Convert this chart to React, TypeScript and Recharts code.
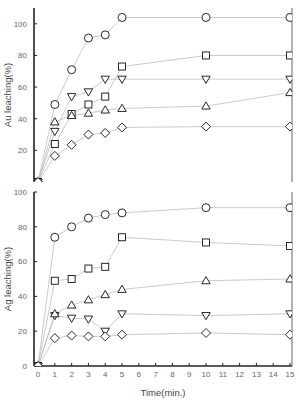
import React from 'react';
import { LineChart, Line, XAxis, YAxis } from 'recharts';

// time points (min.)
const time = [0, 1, 2, 3, 4, 5, 10, 15];
const xTicks = [0, 1, 2, 3, 4, 5, 6, 7, 8, 9, 10, 11, 12, 13, 14, 15];
const yTicks = [0, 20, 40, 60, 80, 100];

// Au leaching (%)
const auCircle = [0, 49, 71, 91, 93, 104, 104, 104];
const auSquare = [0, 24, 43, 49, 54, 73, 80, 80];
const auDown = [0, 32, 54, 57, 65, 65, 65, 65];
const auUp = [0, 38, 42, 43.5, 45.5, 46.5, 48, 56.5];
const auDiamond = [0, 16.5, 23.5, 30, 31, 34.5, 35, 35];

// Ag leaching (%)
const agCircle = [0, 74, 80, 85, 87, 88, 91, 91];
const agSquare = [0, 49, 50, 56, 57, 74, 71, 69];
const agUp = [0, 30, 35, 38, 41, 44, 49, 50];
const agDown = [0, 29, 27.5, 27, 20, 30, 29, 30];
const agDiamond = [0, 16, 17.5, 17, 17, 18, 19, 18];

const auData = time.map((t, i) => ({
  time: t, circle: auCircle[i], square: auSquare[i], down: auDown[i], up: auUp[i], diamond: auDiamond[i],
}));
const agData = time.map((t, i) => ({
  time: t, circle: agCircle[i], square: agSquare[i], down: agDown[i], up: agUp[i], diamond: agDiamond[i],
}));

const FONT = '"Liberation Sans", Arial, sans-serif';
const AXIS = '#222';
const FRAME = '#555';
const LINE = '#bdbdbd';
const X_DOMAIN = [-0.24, 15.12];
const tickStyle = { fill: '#666', fontSize: 8, fontFamily: FONT };

const makeDot = (shape: string) => (props: any) => {
  const { cx, cy, index } = props;
  const k = `${shape}-${index}`;
  if (cx == null || cy == null) return <g key={k} />;
  const common = { fill: '#fff', stroke: '#111', strokeWidth: 0.9 };
  switch (shape) {
    case 'circle':
      return <circle key={k} cx={cx} cy={cy} r={4} {...common} />;
    case 'square':
      return <rect key={k} x={cx - 3.5} y={cy - 3.5} width={7} height={7} {...common} />;
    case 'up':
      return <polygon key={k} points={`${cx},${cy - 4.2} ${cx + 4.2},${cy + 3} ${cx - 4.2},${cy + 3}`} {...common} />;
    case 'down':
      return <polygon key={k} points={`${cx},${cy + 4.2} ${cx + 4.2},${cy - 3} ${cx - 4.2},${cy - 3}`} {...common} />;
    default:
      return <polygon key={k} points={`${cx},${cy - 4.5} ${cx + 4.5},${cy} ${cx},${cy + 4.5} ${cx - 4.5},${cy}`} {...common} />;
  }
};

const series = ['circle', 'square', 'down', 'up', 'diamond'];

const Panel = ({ data, height, top, bottom, yMax, label, showX }: any) => (
  <LineChart width={299} height={height} data={data} margin={{ top, right: 3, left: 0, bottom }}>
    <XAxis
      dataKey="time" type="number" domain={X_DOMAIN} ticks={xTicks} allowDataOverflow
      axisLine={{ stroke: AXIS, strokeWidth: 1.6 }} tickLine={{ stroke: AXIS }} tickSize={-3} tickMargin={8}
      tick={showX ? tickStyle : false} height={showX ? 34 : 0} interval={0}
      label={showX ? { value: 'Time(min.)', position: 'insideBottom', offset: 4, style: { fill: '#444', fontSize: 9.5, fontFamily: FONT } } : undefined}
    />
    <XAxis
      xAxisId="top" orientation="top" type="number" domain={X_DOMAIN} ticks={xTicks} allowDataOverflow
      axisLine={{ stroke: FRAME, strokeWidth: 0.9 }} tickLine={{ stroke: FRAME }} tickSize={-3} tick={false} height={0} interval={0}
    />
    <YAxis
      type="number" domain={[0, yMax]} ticks={yTicks} allowDataOverflow width={34}
      axisLine={{ stroke: AXIS, strokeWidth: 1.6 }} tickLine={{ stroke: AXIS }} tickSize={-3} tickMargin={10} tick={tickStyle}
      label={{ value: label, angle: -90, position: 'insideLeft', offset: 8, style: { textAnchor: 'middle', fill: '#444', fontSize: 9.5, fontFamily: FONT } }}
    />
    <YAxis
      yAxisId="right" orientation="right" type="number" domain={[0, yMax]} ticks={yTicks} width={4}
      axisLine={{ stroke: FRAME, strokeWidth: 0.9 }} tickLine={{ stroke: FRAME }} tickSize={-3} tick={false}
    />
    {series.map((s) => (
      <Line key={s} dataKey={s} stroke={LINE} strokeWidth={0.8} dot={makeDot(s)} activeDot={false} isAnimationActive={false} />
    ))}
  </LineChart>
);

export default function App() {
  return (
    <>
      <style>{'html,body{margin:0;padding:0;overflow:hidden;background:#fff}'}</style>
      <div style={{ position: 'relative', width: 299, height: 400, background: '#fff' }}>
        <div style={{ position: 'absolute', left: 0, top: 0 }}>
          <Panel data={auData} height={186} top={8} bottom={4} yMax={110} label="Au leaching(%)" showX={false} />
        </div>
        <div style={{ position: 'absolute', left: 0, top: 186 }}>
          <Panel data={agData} height={214} top={6} bottom={0} yMax={100} label="Ag leaching(%)" showX />
        </div>
      </div>
    </>
  );
}
